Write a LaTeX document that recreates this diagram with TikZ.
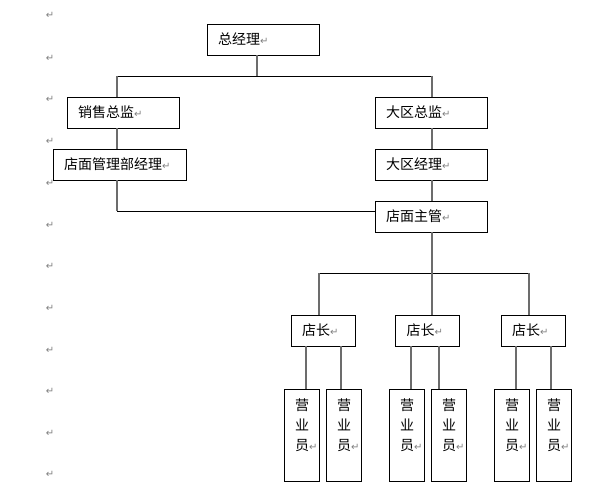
\documentclass[tikz,border=0pt]{standalone}
\usepackage{fontspec}
\setmainfont{Noto Sans CJK SC}
\newfontfamily\symfont{DejaVu Sans}
\usetikzlibrary{positioning}

% Word paragraph mark
\newcommand{\pmk}{{\symfont\color{gray}\fontsize{10}{10}\selectfont ↵}}

\tikzset{
  orgbox/.style={draw, line width=0.8pt, minimum height=31pt, inner xsep=11pt, inner ysep=0pt,
    text width=#1, align=left, font=\fontsize{14}{20}\selectfont},
  clerkbox/.style={orgbox=13pt, minimum height=92pt},
  vline/.style={draw=gray!85!black, line width=1.3pt},
  hline/.style={draw=black, line width=0.8pt},
  pmark/.style={inner sep=0pt, text=gray, font=\symfont\fontsize{10}{10}\selectfont}
}

\begin{document}
\begin{tikzpicture}[x=1pt,y=-1pt]
\useasboundingbox (0,0) rectangle (601,500);
% paragraph marks down the left margin
\foreach \yy in {15,58,99,141,183,225,266,308,350,391,433,474}
  \node[pmark] (pm\yy) at (50,\yy) {↵};

% boxes
\node[orgbox=90pt] (gm) at (263,39.5) {总经理\pmk};
\node[orgbox=90pt] (sales) at (123,112.5) {销售总监\pmk};
\node[orgbox=111pt] (shopdept) at (119.5,164.5) {店面管理部经理\pmk};
\node[orgbox=90pt] (region) at (431,112.5) {大区总监\pmk};
\node[orgbox=90pt] (regmgr) at (431,164.5) {大区经理\pmk};
\node[orgbox=90pt] (super) at (431,216.5) {店面主管\pmk};
\node[orgbox=42pt] (head1) at (323,330.5) {店长\pmk};
\node[orgbox=42pt] (head2) at (427.5,330.5) {店长\pmk};
\node[orgbox=42pt] (head3) at (533,330.5) {店长\pmk};
\foreach \cc/\xx in {c1/301.5,c2/343.5,c3/406.5,c4/448.5,c5/511.5,c6/553.5}
  \node[clerkbox] (\cc) at (\xx,435) {营\\业\\员\pmk\\\mbox{}};

% junctions
\coordinate (jtop) at (257,76);
\coordinate (jl) at (117,76);
\coordinate (jr) at (432,76);
\coordinate (jb) at (117,211);
\coordinate (js) at (432,273);
\coordinate (jh1) at (319,273);
\coordinate (jh3) at (529,273);

% upper part
\draw[vline] (gm.south -| jtop) -- (jtop);
\draw[hline] (jl) -- (jr);
\draw[vline] (jl) -- (sales.north -| jl);
\draw[vline] (sales.south -| jl) -- (shopdept.north -| jl);
\draw[vline] (shopdept.south -| jl) -- (jb);
\draw[hline] (jb) -- (jb -| super.west);
\draw[vline] (jr) -- (region.north -| jr);
\draw[vline] (region.south -| jr) -- (regmgr.north -| jr);
\draw[vline] (regmgr.south -| jr) -- (super.north -| jr);

% store heads
\draw[vline] (super.south -| js) -- (js);
\draw[hline] (jh1) -- (jh3);
\draw[vline] (jh1) -- (head1.north -| jh1);
\draw[vline] (js) -- (head2.north -| js);
\draw[vline] (jh3) -- (head3.north -| jh3);

% clerks
\foreach \hd/\cc/\xx in {head1/c1/306,head1/c2/341,head2/c3/411,head2/c4/439,head3/c5/516,head3/c6/551}
  \draw[vline] (\hd.south -| \xx,0) -- (\cc.north -| \xx,0);
\end{tikzpicture}
\end{document}
